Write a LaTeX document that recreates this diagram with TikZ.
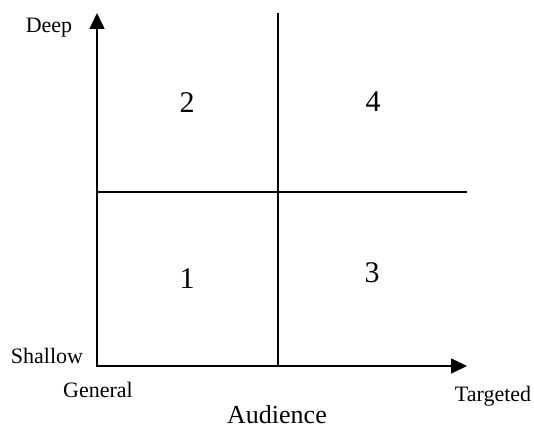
\documentclass[tikz,border=0pt]{standalone}
\usepackage{fontspec}
\setmainfont{Liberation Serif}
\usepackage{tikz}
\usetikzlibrary{arrows.meta}

\begin{document}
\begin{tikzpicture}[x=1pt,y=-1pt,line width=1.6pt,
    axis/.style={{Triangle[length=16pt,width=15pt]}-{Triangle[length=16pt,width=15pt]}},
    label node/.style={anchor=base,inner sep=0pt,font=\fontsize{22}{26}\selectfont},
    quad node/.style={anchor=base,inner sep=0pt,font=\fontsize{30}{36}\selectfont}]
    \useasboundingbox (0,0) rectangle (534,430);

    \coordinate (o) at (97,366);
    \coordinate (ytip) at (97,13);
    \coordinate (xtip) at (467,366);
    \coordinate (mtop) at (278,13);
    \coordinate (mbot) at (278,366);
    \coordinate (mleft) at (97,192);
    \coordinate (mright) at (467,192);

    % axes
    \draw[axis] (ytip) -- (o) -- (xtip);
    \draw (mtop) -- (mbot);
    \draw (mleft) -- (mright);

    \node[label node] (deep) at (49,33) {Deep};
    \node[label node] (shallow) at (47,363) {Shallow};
    \node[label node] (general) at (98,397) {General};
    \node[label node] (targeted) at (493,401) {Targeted};
    \node[label node,font=\fontsize{26}{31}\selectfont] (audience) at (277,423) {Audience};

    \node[quad node] (q2) at (187,113) {2};
    \node[quad node] (q4) at (373,112) {4};
    \node[quad node] (q1) at (187,288) {1};
    \node[quad node] (q3) at (372,282) {3};
\end{tikzpicture}
\end{document}
